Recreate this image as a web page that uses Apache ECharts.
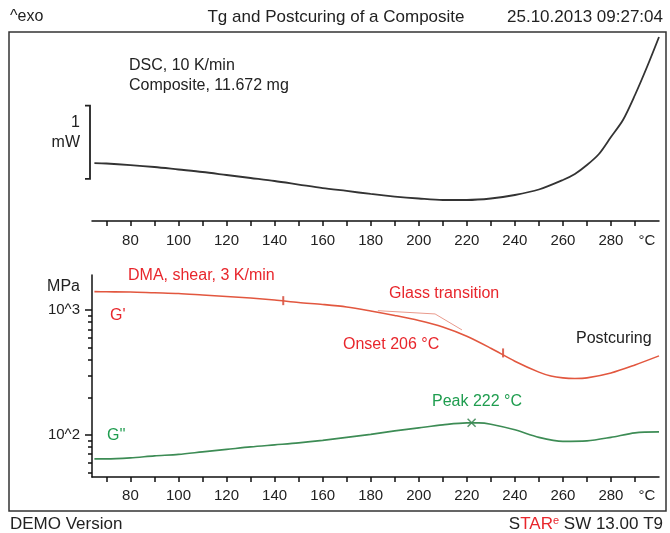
<!DOCTYPE html>
<html>
<head>
<meta charset="utf-8">
<script src="https://cdn.jsdelivr.net/npm/echarts@6/dist/echarts.min.js"></script>
<style>
html, body { margin: 0; padding: 0; background: #fff; }
#chart { width: 670px; height: 533px; }
</style>
</head>
<body>
<div id="chart"></div>
<script>
// DSC heat flow (mW, relative) vs temperature
var dscTemp = [65, 70, 80, 90, 100, 110, 120, 130, 140, 150, 160, 170, 180, 190, 200, 210, 220, 230, 240, 250, 260, 265, 270, 275, 280, 285, 290, 295, 300];
var dscHeat = [0.79, 0.785, 0.764, 0.737, 0.703, 0.669, 0.628, 0.587, 0.546, 0.498, 0.450, 0.410, 0.369, 0.334, 0.307, 0.287, 0.287, 0.307, 0.355, 0.430, 0.560, 0.642, 0.764, 0.915, 1.147, 1.379, 1.720, 2.102, 2.512];

// DMA storage modulus G' (MPa)
var gpTemp = [65, 70, 80, 90, 100, 110, 120, 130, 140, 150, 160, 170, 180, 190, 200, 210, 220, 230, 240, 250, 255, 260, 265, 270, 280, 290, 300];
var gpVal = [1401, 1398, 1393, 1373, 1355, 1318, 1282, 1247, 1202, 1148, 1107, 1057, 982, 904, 824, 731, 616, 494, 389, 318, 296, 286, 283, 286, 313, 363, 429];

// DMA loss modulus G'' (MPa)
var gppTemp = [65, 70, 80, 90, 100, 110, 120, 130, 140, 150, 160, 170, 180, 190, 200, 210, 220, 225, 230, 240, 250, 260, 270, 280, 290, 300];
var gppVal = [64.3, 64.3, 65.5, 67.9, 69.8, 73.1, 76.5, 80.2, 83.2, 86.3, 90.4, 95.5, 101, 107.6, 113.8, 120.2, 124.7, 124.7, 121.7, 109.7, 95.5, 88.7, 89.5, 95.5, 103.8, 105.7];

// onset construction (tangents), G' markers, G'' peak
var onsetTemp = [183, 206.8, 218];
var onsetVal = [987, 929, 692];
var markTemp = [143.6, 235.1];
var markVal = [1187, 453];
var peakTemp = [222];
var peakVal = [125];

// axis ticks and labels
var tempTicks = [70, 80, 90, 100, 110, 120, 130, 140, 150, 160, 170, 180, 190, 200, 210, 220, 230, 240, 250, 260, 270, 280, 290];
var tempLabels = [80, 100, 120, 140, 160, 180, 200, 220, 240, 260, 280, 295];
var modMajor = [100, 1000];
var modMinor = [50, 60, 70, 80, 90, 200, 300, 400, 500, 600, 700, 800, 900];

var RED = '#e8262c';
var GREEN = '#1f9d4f';
var INK = '#222';
var FONT = 'Liberation Sans, Arial, sans-serif';

function zip(a, b) {
    return a.map(function (v, i) { return [v, b[i]]; });
}

function tempAxis(grid) {
    return {
        gridIndex: grid, type: 'value', min: 64, max: 300,
        axisLine: { onZero: false, lineStyle: { color: '#111', width: 1.5 } },
        axisTick: { customValues: tempTicks, length: 5, lineStyle: { color: '#111', width: 1.5 } },
        axisLabel: {
            customValues: tempLabels, color: INK, fontSize: 15, fontFamily: FONT,
            margin: grid === 0 ? 12 : 11,
            formatter: function (v) { return v === 295 ? '°C' : String(v); }
        },
        splitLine: { show: false }
    };
}

var chart = echarts.init(document.getElementById('chart'));

chart.setOption({
    animation: false,
    textStyle: { fontFamily: FONT },
    grid: [
        { left: 92, right: 11, top: 32, bottom: 312 },
        { left: 92, right: 11, top: 275, bottom: 56 }
    ],
    xAxis: [tempAxis(0), tempAxis(1)],
    yAxis: [{
        gridIndex: 0, type: 'value', min: 0, max: 2.58, show: false
    }, {
        gridIndex: 1, type: 'log', logBase: 10, min: 46, max: 1905,
        position: 'left', offset: 0,
        axisLine: { show: true, lineStyle: { color: '#111', width: 1.5 } },
        axisTick: { customValues: modMajor, length: 7, lineStyle: { color: '#111', width: 1.5 } },
        axisLabel: {
            customValues: modMajor, color: INK, fontSize: 15, fontFamily: FONT, margin: 12,
            formatter: function (v) { return Math.round(v) === 100 ? '10^2' : '10^3'; }
        },
        splitLine: { show: false }
    }, {
        gridIndex: 1, type: 'log', logBase: 10, min: 46, max: 1905,
        position: 'left', offset: 0,
        axisLine: { show: false },
        axisTick: { customValues: modMinor, length: 4, lineStyle: { color: '#111', width: 1.5 } },
        axisLabel: { show: false },
        splitLine: { show: false }
    }],
    series: [{
        name: 'DSC', type: 'line', xAxisIndex: 0, yAxisIndex: 0,
        data: zip(dscTemp, dscHeat), smooth: 0.3, showSymbol: false,
        lineStyle: { color: '#333', width: 1.8 }
    }, {
        name: "G'", type: 'line', xAxisIndex: 1, yAxisIndex: 1,
        data: zip(gpTemp, gpVal), smooth: 0.3, showSymbol: false,
        lineStyle: { color: '#e2573f', width: 1.6 }
    }, {
        name: 'onset', type: 'line', xAxisIndex: 1, yAxisIndex: 1,
        data: zip(onsetTemp, onsetVal), showSymbol: false,
        lineStyle: { color: '#e99a8c', width: 1 }
    }, {
        name: "G''", type: 'line', xAxisIndex: 1, yAxisIndex: 1,
        data: zip(gppTemp, gppVal), smooth: 0.3, showSymbol: false,
        lineStyle: { color: '#3d8c55', width: 1.6 }
    }, {
        name: 'marks', type: 'scatter', xAxisIndex: 1, yAxisIndex: 1,
        data: zip(markTemp, markVal), symbol: 'rect', symbolSize: [2, 9],
        itemStyle: { color: '#d2402e' }
    }, {
        name: 'peak', type: 'scatter', xAxisIndex: 1, yAxisIndex: 1,
        data: zip(peakTemp, peakVal), symbolSize: 8,
        symbol: 'path://M0,0L10,10M10,0L0,10',
        itemStyle: { color: 'none', borderColor: '#2a7a45', borderWidth: 1.5 }
    }]
});

// 1 mW scale bar on the DSC panel
var barTop = chart.convertToPixel({ gridIndex: 0 }, [64, 1.575]);
var barBot = chart.convertToPixel({ gridIndex: 0 }, [64, 0.575]);
var bx = barTop[0] - 2;

function txt(x, y, s, opts) {
    return {
        type: 'text', x: x, y: y, silent: true,
        style: Object.assign({
            text: s, fill: INK, font: '16px ' + FONT,
            textAlign: 'left', textVerticalAlign: 'middle'
        }, opts || {})
    };
}

chart.setOption({
    graphic: [
        { type: 'rect', shape: { x: 9, y: 32, width: 657, height: 479 },
          style: { fill: 'none', stroke: '#333', lineWidth: 1.5 }, silent: true },
        { type: 'polyline', silent: true,
          shape: { points: [[bx - 5, barTop[1]], [bx, barTop[1]], [bx, barBot[1]], [bx - 5, barBot[1]]] },
          style: { fill: 'none', stroke: '#222', lineWidth: 1.8 } },
        txt(10, 17, '^exo', { font: '16px ' + FONT }),
        txt(336, 17, 'Tg and Postcuring of a Composite', { font: '17px ' + FONT, textAlign: 'center' }),
        txt(663, 17, '25.10.2013 09:27:04', { font: '17px ' + FONT, textAlign: 'right' }),
        txt(129, 66, 'DSC, 10 K/min'),
        txt(129, 86, 'Composite, 11.672 mg'),
        txt(80, 123, '1', { textAlign: 'right' }),
        txt(80, 143, 'mW', { textAlign: 'right' }),
        txt(80, 287, 'MPa', { textAlign: 'right' }),
        txt(128, 276, 'DMA, shear, 3 K/min', { fill: RED }),
        txt(110, 316, "G'", { fill: RED }),
        txt(107, 436, "G''", { fill: GREEN }),
        txt(389, 294, 'Glass transition', { fill: RED }),
        txt(343, 345, 'Onset 206 °C', { fill: RED }),
        txt(576, 339, 'Postcuring'),
        txt(432, 402, 'Peak 222 °C', { fill: GREEN }),
        txt(10, 524, 'DEMO Version', { font: '17px ' + FONT }),
        {
            type: 'text', x: 663, y: 524, silent: true,
            style: {
                text: '{k|S}{r|TAR}{s|e}{k| SW 13.00 T9}',
                textAlign: 'right', textVerticalAlign: 'middle',
                rich: {
                    k: { fill: INK, font: '17px ' + FONT },
                    r: { fill: RED, font: '17px ' + FONT },
                    s: { fill: RED, font: '11px ' + FONT, verticalAlign: 'top' }
                }
            }
        }
    ]
});
</script>
</body>
</html>
